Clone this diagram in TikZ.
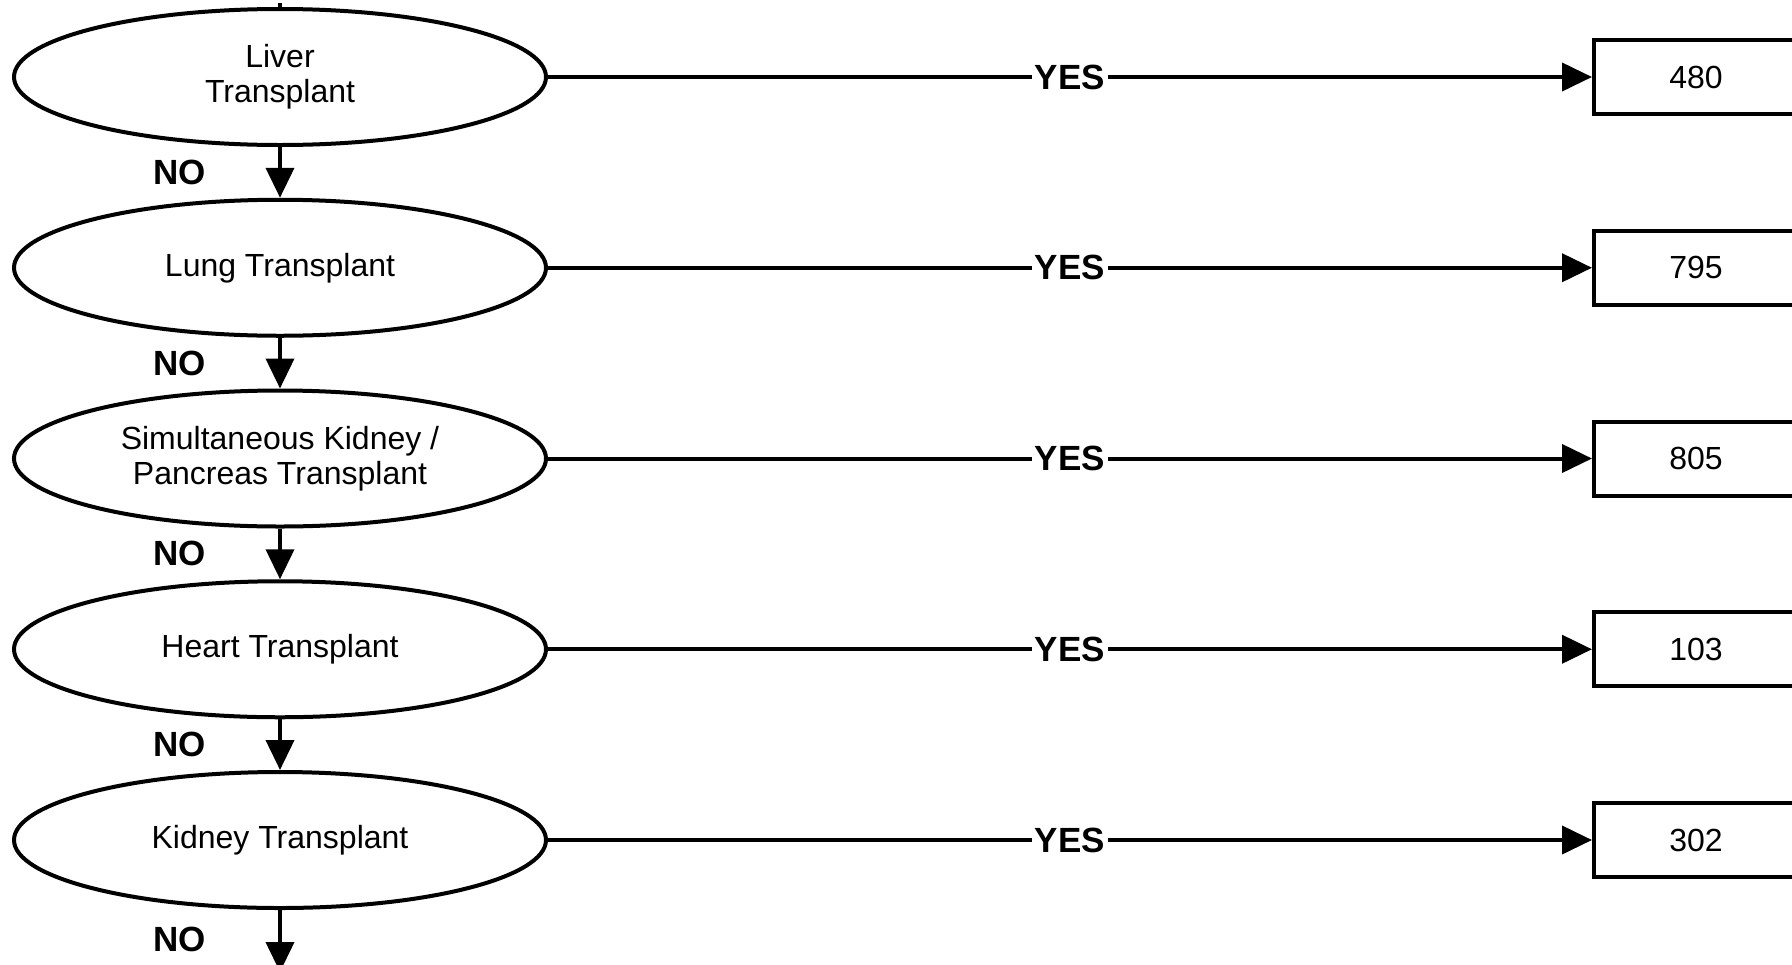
\documentclass[tikz,border=0pt]{standalone}
\usepackage{fontspec}
\setmainfont{Liberation Sans}
\usetikzlibrary{shapes.geometric,arrows.meta}
\begin{document}
\begin{tikzpicture}[x=0.5pt,y=0.5pt,
  line width=2pt,
  decision/.style={draw, ellipse, minimum width=266pt, minimum height=68pt, inner sep=0pt, align=center, font=\fontsize{16}{17.5}\selectfont},
  result/.style={draw, rectangle, minimum width=102pt, minimum height=37pt, inner sep=0pt, anchor=west, font=\fontsize{16}{19}\selectfont},
  lbl/.style={font=\bfseries\fontsize{17.5}{20}\selectfont, inner sep=1pt},
  yeslbl/.style={lbl, fill=white, inner sep=1.5pt},
  arr/.style={-{Triangle[length=15pt,width=14pt]}}
]
\useasboundingbox (0,0) rectangle (1792,-964);

\node[decision] (e1) at (280,-77) {Liver\\Transplant};
\node[decision] (e2) at (280,-267.75) {Lung Transplant};
\node[decision] (e3) at (280,-458.5) {Simultaneous Kidney /\\Pancreas Transplant};
\node[decision] (e4) at (280,-649.25) {Heart Transplant};
\node[decision] (e5) at (280,-840) {Kidney Transplant};

\node[result] (b1) at (1592,-77) {480};
\node[result] (b2) at (1592,-267.75) {795};
\node[result] (b3) at (1592,-458.5) {805};
\node[result] (b4) at (1592,-649.25) {103};
\node[result] (b5) at (1592,-840) {302};

\coordinate (top) at (280,-3);
\coordinate (bottom) at (280,-972);

\draw (top) -- (e1.north);

\draw[arr] (e1.east) -- node[yeslbl] {YES} (b1.west);
\draw[arr] (e2.east) -- node[yeslbl] {YES} (b2.west);
\draw[arr] (e3.east) -- node[yeslbl] {YES} (b3.west);
\draw[arr] (e4.east) -- node[yeslbl] {YES} (b4.west);
\draw[arr] (e5.east) -- node[yeslbl] {YES} (b5.west);

\draw[arr] (e1.south) -- node[lbl, left=35pt] {NO} (e2.north);
\draw[arr] (e2.south) -- node[lbl, left=35pt] {NO} (e3.north);
\draw[arr] (e3.south) -- node[lbl, left=35pt] {NO} (e4.north);
\draw[arr] (e4.south) -- node[lbl, left=35pt] {NO} (e5.north);
\draw[arr] (e5.south) -- node[lbl, left=35pt, yshift=1pt] {NO} (bottom);
\end{tikzpicture}
\end{document}
